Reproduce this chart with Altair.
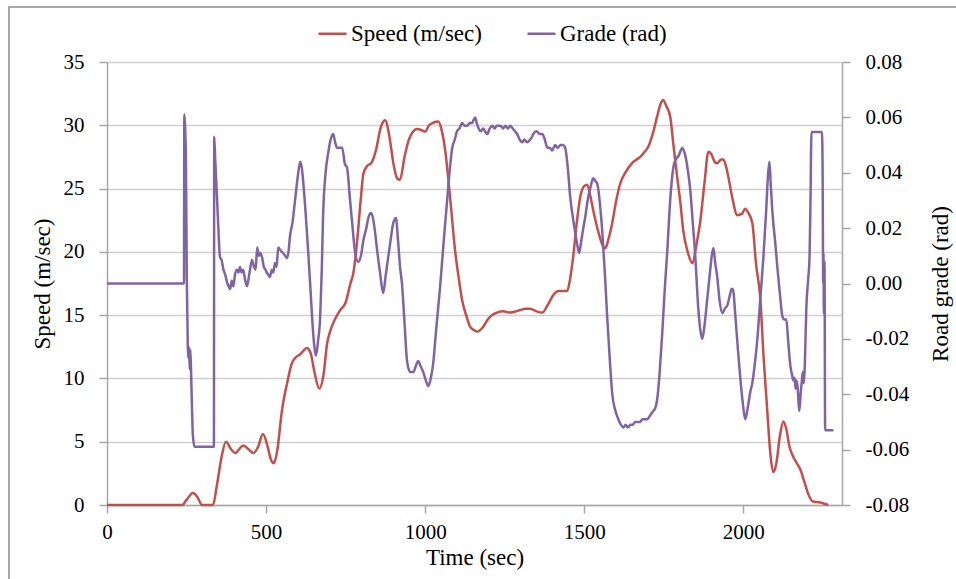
import altair as alt
import pandas as pd

SPEED = "Speed (m/sec)"
GRADE = "Grade (rad)"

speed_t = [0, 236, 250, 270, 285, 298, 333, 345, 360, 374, 390, 403, 415, 428, 445, 460, 475, 490,
           505, 515, 525, 535, 550, 565, 581, 595, 607, 618, 628, 640, 652, 667, 680, 692, 701, 715,
           733, 750, 765, 774, 786, 797, 806, 818, 830, 845, 860, 874, 887, 900, 912, 921, 935, 948,
           959, 975, 990, 1000, 1012, 1025, 1041, 1052, 1063, 1079, 1094, 1105, 1116, 1130, 1141,
           1155, 1163, 1180, 1195, 1210, 1226, 1245, 1267, 1285, 1299, 1315, 1330, 1350, 1368, 1385,
           1403, 1420, 1446, 1455, 1465, 1475, 1487, 1500, 1509, 1520, 1528, 1545, 1558, 1566, 1576,
           1588, 1600, 1613, 1630, 1654, 1676, 1690, 1701, 1715, 1729, 1740, 1748, 1758, 1770, 1780,
           1792, 1802, 1811, 1825, 1840, 1852, 1865, 1878, 1890, 1900, 1910, 1918, 1930, 1937, 1945,
           1953, 1965, 1981, 1995, 2006, 2015, 2028, 2040, 2053, 2064, 2075, 2085, 2094, 2103, 2115,
           2126, 2135, 2145, 2157, 2168, 2179, 2192, 2205, 2217, 2242, 2255, 2267]
speed_v = [0, 0, 0.4, 0.95, 0.6, 0, 0, 1.5, 3.8, 5.0, 4.4, 4.1, 4.4, 4.7, 4.4, 4.1, 4.6, 5.6,
           4.6, 3.6, 3.3, 4.3, 7.5, 9.5, 11.2, 11.7, 11.9, 12.2, 12.4, 12.0, 10.5, 9.2, 10.2, 12.8, 13.7, 14.6,
           15.4, 16.0, 17.5, 18.3, 20.8, 24.0, 26.2, 26.8, 27.0, 28.0, 29.8, 30.4, 29.2, 27.0, 25.8, 25.7, 27.5, 28.8,
           29.4, 29.7, 29.6, 29.5, 30.0, 30.2, 30.3, 29.6, 28.0, 24.1, 20.1, 18.0, 16.2, 14.9, 14.1,
           13.8, 13.7, 14.0, 14.6, 15.0, 15.2, 15.3, 15.2, 15.3, 15.4, 15.5, 15.5, 15.3, 15.2, 15.8,
           16.6, 16.9, 16.9, 17.8, 19.6, 22.0, 24.3, 25.2, 25.3, 24.3, 23.3, 21.5, 20.5, 20.3, 21.0,
           22.3, 24.0, 25.4, 26.3, 27.1, 27.5, 27.9, 28.3, 29.3, 30.7, 31.7, 32.0, 31.5, 30.7, 28.5,
           25.9, 23.9, 21.7, 20.0, 19.1, 20.5, 22.5, 25.5, 27.9, 27.7, 27.1, 27.0, 27.3, 27.3, 26.8,
           25.9, 24.3, 22.9, 23.0, 23.4, 23.1, 22.3, 19.0, 16.4, 11.5, 7.5, 4.0, 2.6, 3.2, 5.5,
           6.6, 6.0, 4.6, 3.8, 3.3, 2.8, 1.8, 0.8, 0.3, 0.2, 0.1, 0]

grade_t = [0, 242, 243, 246, 248, 251, 254, 256, 258, 260, 262, 264, 266, 270, 275, 336, 337, 340, 345,
           350, 355, 360, 366, 372, 377, 382, 387, 392, 397, 402, 408, 413, 418, 423, 428, 433, 440,
           448, 456, 462, 467, 472, 477, 482, 487, 493, 498, 503, 508, 512, 518, 523, 528, 533, 538,
           545, 553, 560, 566, 571, 575, 583, 591, 600, 607, 612, 620, 632, 640, 648, 653, 657, 663,
           670, 675, 679, 687, 695, 703, 711, 717, 723, 731, 739, 748, 754, 764, 772, 780, 790, 798,
           806, 815, 822, 830, 837, 843, 849, 858, 868, 876, 882, 890, 900, 908, 915, 921, 927, 935,
           943, 953, 963, 970, 978, 986, 994, 1002, 1010, 1018, 1025, 1035, 1047, 1058, 1069, 1078,
           1085, 1093, 1100, 1108, 1116, 1124, 1132, 1140, 1148, 1152, 1157, 1162, 1168, 1175, 1182,
           1188, 1195, 1203, 1211, 1218, 1225, 1236, 1245, 1252, 1260, 1267, 1275, 1282, 1289, 1297,
           1305, 1312, 1320, 1330, 1336, 1340, 1350, 1360, 1368, 1376, 1384, 1392, 1399, 1408, 1417,
           1425, 1433, 1440, 1448, 1456, 1464, 1472, 1478, 1484, 1490, 1497, 1503, 1512, 1520, 1528,
           1535, 1541, 1549, 1557, 1565, 1572, 1580, 1588, 1598, 1607, 1615, 1623, 1630, 1637, 1645,
           1652, 1660, 1667, 1675, 1683, 1690, 1698, 1705, 1711, 1717, 1723, 1729, 1737, 1745, 1753,
           1761, 1770, 1780, 1788, 1796, 1803, 1808, 1813, 1818, 1824, 1833, 1841, 1849, 1858, 1865,
           1871, 1878, 1887, 1895, 1902, 1906, 1912, 1918, 1925, 1934, 1942, 1950, 1958, 1963, 1967,
           1975, 1983, 1991, 1999, 2006, 2015, 2022, 2028, 2036, 2044, 2053, 2063, 2072, 2078, 2082,
           2086, 2090, 2094, 2100, 2107, 2115, 2123, 2130, 2135, 2141, 2148, 2153, 2157, 2161, 2164,
           2167, 2171, 2174, 2176, 2180, 2184, 2187, 2190, 2193, 2198, 2204, 2208, 2211, 2214, 2247,
           2249, 2251, 2252, 2253, 2255, 2257, 2283]
grade_v = [0, 0, 0.061, 0.055, 0.045, 0.0, -0.023, -0.027, -0.023, -0.031, -0.024, -0.031, -0.040, -0.055, -0.059, -0.059, 0.053, 0.045, 0.033,
           0.020, 0.0096, 0.0085, 0.005, 0.003, 0.0005, -0.001, -0.002, 0.001, -0.001, 0.003, 0.005, 0.004, 0.006, 0.004, 0.005, 0.002, -0.001,
           0.004, 0.0085, 0.006, 0.005, 0.013, 0.010, 0.011, 0.0096, 0.006, 0.005, 0.0038, 0.003, 0.0023, 0.005, 0.004, 0.0074, 0.006, 0.013,
           0.012, 0.011, 0.010, 0.0092, 0.012, 0.017, 0.022, 0.030, 0.039, 0.044, 0.042, 0.032, 0.012, -0.003, -0.018, -0.024, -0.026, -0.021,
           -0.012, 0.005, 0.024, 0.040, 0.047, 0.052, 0.054, 0.051, 0.049, 0.049, 0.049, 0.043, 0.042, 0.030, 0.020, 0.011, 0.0078, 0.010,
           0.0157, 0.020, 0.024, 0.0255, 0.023, 0.018, 0.012, 0.004, -0.0035, 0.003, 0.008, 0.0146, 0.022, 0.0237, 0.015, 0.006, 0.0, -0.014,
           -0.028, -0.032, -0.032, -0.030, -0.028, -0.030, -0.032, -0.035, -0.037, -0.034, -0.029, -0.016, -0.001, 0.015, 0.030, 0.042,
           0.049, 0.052, 0.055, 0.056, 0.058, 0.057, 0.057, 0.058, 0.058, 0.059, 0.060, 0.058, 0.056, 0.055, 0.056,
           0.055, 0.054, 0.056, 0.057, 0.056, 0.057, 0.057, 0.056, 0.057, 0.056, 0.057, 0.056, 0.055, 0.054, 0.052,
           0.051, 0.052, 0.051, 0.052, 0.053, 0.054, 0.055, 0.054, 0.054, 0.052, 0.049, 0.049, 0.048, 0.050, 0.049,
           0.050, 0.050, 0.049, 0.042, 0.031, 0.024, 0.018, 0.014, 0.011, 0.015, 0.020, 0.024, 0.031, 0.035, 0.038,
           0.037, 0.036, 0.029, 0.018, 0.003, -0.012, -0.027, -0.040, -0.046, -0.049, -0.051, -0.052, -0.051, -0.052, -0.051,
           -0.051, -0.050, -0.050, -0.050, -0.049, -0.049, -0.049, -0.048, -0.047, -0.046, -0.045, -0.042, -0.032, -0.018, -0.002,
           0.012, 0.030, 0.042, 0.045, 0.046, 0.048, 0.049, 0.048, 0.046, 0.042, 0.034, 0.022, 0.0096, -0.0085, -0.017,
           -0.020, -0.015, -0.005, 0.004, 0.011, 0.0127, 0.007, 0.0023, -0.006, -0.0107, -0.009, -0.0078, -0.004, -0.002, -0.002,
           -0.012, -0.024, -0.035, -0.044, -0.049, -0.044, -0.039, -0.036, -0.029, -0.020, -0.006, 0.0096, 0.027, 0.040, 0.044,
           0.036, 0.028, 0.022, 0.015, 0.0056, -0.004, -0.012, -0.013, -0.013, -0.021, -0.030, -0.033, -0.035, -0.034, -0.038,
           -0.035, -0.038, -0.044, -0.046, -0.040, -0.035, -0.032, -0.036, -0.030, -0.0085, 0.002, 0.0096, 0.030, 0.0547, 0.0547,
           0.042, 0.0, 0.011, -0.011, 0.008, -0.053, -0.053]

speed_ticks = [0, 5, 10, 15, 20, 25, 30, 35]
grade_ticks = [-0.08, -0.06, -0.04, -0.02, 0.0, 0.02, 0.04, 0.06, 0.08]
time_ticks = [0, 500, 1000, 1500, 2000]

speed_df = pd.DataFrame({"time": speed_t, "value": speed_v, "series": SPEED})
grade_df = pd.DataFrame({"time": grade_t, "value": grade_v, "series": GRADE})

FONT = "Liberation Serif"
W, H = 735, 443

color = alt.Color(
    "series:N",
    scale=alt.Scale(domain=[SPEED, GRADE], range=["#C0504D", "#8064A2"]),
    legend=alt.Legend(
        orient="none", legendX=210, legendY=-44, direction="horizontal", title=None,
        symbolType="stroke", symbolSize=784, symbolStrokeWidth=2.5,
        labelFontSize=23, labelFont=FONT, labelColor="black", columnPadding=40,
        labelOffset=3, padding=0,
    ),
)

x_enc = alt.X(
    "time:Q",
    scale=alt.Scale(domain=[0, 2310], nice=False, zero=False),
    axis=alt.Axis(values=time_ticks, title="Time (sec)", grid=False, tickSize=8,
                  labelPadding=8, labelFontSize=21, titleFontSize=23, labelFlush=False,
                  titleY=52, titleBaseline="middle", format="d"),
)

border = alt.Chart(pd.DataFrame({"a": [0]})).mark_rect(
    fillOpacity=0, stroke="#8c8c8c", strokeWidth=1.5
).encode(
    x=alt.value(-98), x2=alt.value(860), y=alt.value(-55), y2=alt.value(530)
)

speed_line = alt.Chart(speed_df).mark_line(strokeWidth=2.5, interpolate="monotone").encode(
    x=x_enc,
    y=alt.Y("value:Q", scale=alt.Scale(domain=[0, 35], nice=False),
            axis=alt.Axis(values=speed_ticks, title=SPEED, grid=True, tickSize=8,
                          labelPadding=15, labelFontSize=21, titleFontSize=23,
                          titleX=-65, titleY=H / 2, titleAngle=270,
                          titleBaseline="middle", titleAlign="center")),
    color=color,
)

grade_line = alt.Chart(grade_df).mark_line(strokeWidth=2.5, interpolate="monotone").encode(
    x=x_enc,
    y=alt.Y("value:Q", scale=alt.Scale(domain=[-0.08, 0.08], nice=False, zero=False),
            axis=alt.Axis(orient="right", values=grade_ticks, title="Road grade (rad)", grid=False,
                          tickSize=8, labelPadding=15, labelFontSize=21, titleFontSize=23,
                          labelExpr="(datum.value < -0.0001 ? '-' : '') + format(abs(datum.value), '.2f')",
                          titleX=98, titleY=H / 2, titleAngle=270,
                          titleBaseline="middle", titleAlign="center")),
    color=color,
)

chart = alt.layer(border, speed_line, grade_line).resolve_scale(
    y="independent"
).properties(
    width=W, height=H,
    autosize=alt.AutoSizeParams(type="none"),
    padding={"left": 107, "top": 62, "right": 114, "bottom": 74},
    background="white",
).configure_view(
    strokeWidth=0
).configure_axis(
    labelFont=FONT, titleFont=FONT, labelColor="black", titleColor="black",
    titleFontWeight="normal", domainColor="#a6a6a6", tickColor="#a6a6a6",
    gridColor="#d0d0d0", domainWidth=1.5, tickWidth=1.5, gridWidth=1.5,
)

chart.save("out.html", embed_options={"renderer": "svg", "actions": False})
